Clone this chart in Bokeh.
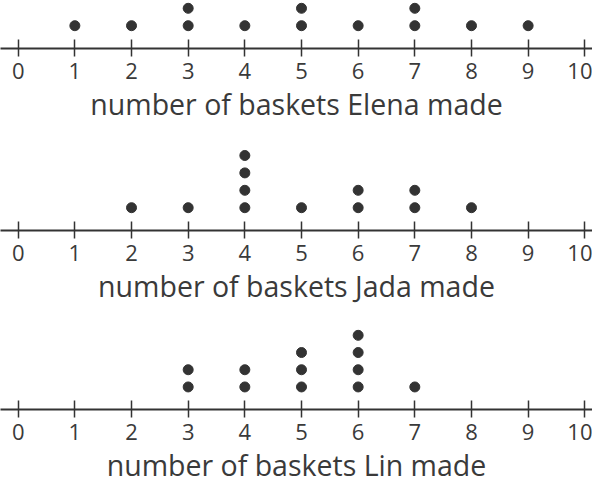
from collections import Counter

from bokeh.plotting import figure
from bokeh.layouts import column
from bokeh.models import Range1d, FixedTicker
from bokeh.embed import file_html
from bokeh.resources import INLINE

# ---- data ----
ticks = list(range(0, 11))
elena_values = [1, 2, 3, 3, 4, 5, 5, 6, 7, 7, 8, 9]
jada_values = [2, 3, 4, 4, 4, 4, 5, 6, 6, 7, 7, 8]
lin_values = [3, 3, 4, 4, 5, 5, 5, 6, 6, 6, 6, 7]
axis_titles = [
    "number of baskets Elena made",
    "number of baskets Jada made",
    "number of baskets Lin made",
]

# ---- styling / layout ----
INK = "#333333"
TEXT = "#3a3a3a"
W = 592
PX_PER_UNIT_X = 56.66
X0 = -17.7 / PX_PER_UNIT_X
X1 = X0 + W / PX_PER_UNIT_X
PX_PER_STACK = 17.4
Y0 = -5.4 / PX_PER_STACK


def stack(values):
    seen = Counter()
    xs, ys = [], []
    for v in values:
        seen[v] += 1
        xs.append(v)
        ys.append(seen[v])
    return xs, ys


def make(values, title, frame_h, mb):
    height = frame_h + mb
    p = figure(
        width=W, height=height, output_backend="svg", toolbar_location=None,
        x_range=Range1d(X0, X1),
        y_range=Range1d(Y0, Y0 + frame_h / PX_PER_STACK),
        min_border_left=0, min_border_right=0, min_border_top=0,
        min_border_bottom=mb, y_axis_location=None,
        background_fill_color="white", border_fill_color="white",
    )
    p.outline_line_color = None
    p.xgrid.visible = False
    p.ygrid.visible = False
    xs, ys = stack(values)
    p.scatter(xs, ys, size=10, color=INK)
    ax = p.xaxis[0]
    ax.ticker = FixedTicker(ticks=ticks)
    ax.axis_line_color = INK
    ax.axis_line_width = 2
    ax.major_tick_line_color = INK
    ax.major_tick_line_width = 1.5
    ax.major_tick_in = 9
    ax.major_tick_out = 8
    ax.minor_tick_line_color = None
    ax.major_label_standoff = 6
    ax.major_label_text_font = "Open Sans"
    ax.major_label_text_font_size = "22px"
    ax.major_label_text_color = TEXT
    ax.axis_label = title
    ax.axis_label_text_font = "Open Sans"
    ax.axis_label_text_font_size = "28.5px"
    ax.axis_label_text_font_style = "normal"
    ax.axis_label_text_color = TEXT
    ax.axis_label_standoff = 3
    return p


p1 = make(elena_values, axis_titles[0], 48, 90)
p2 = make(jada_values, axis_titles[1], 92, 88)
p3 = make(lin_values, axis_titles[2], 92, 76)

layout = column(p1, p2, p3, spacing=0)
open("out.html", "w").write(file_html(layout, INLINE))
